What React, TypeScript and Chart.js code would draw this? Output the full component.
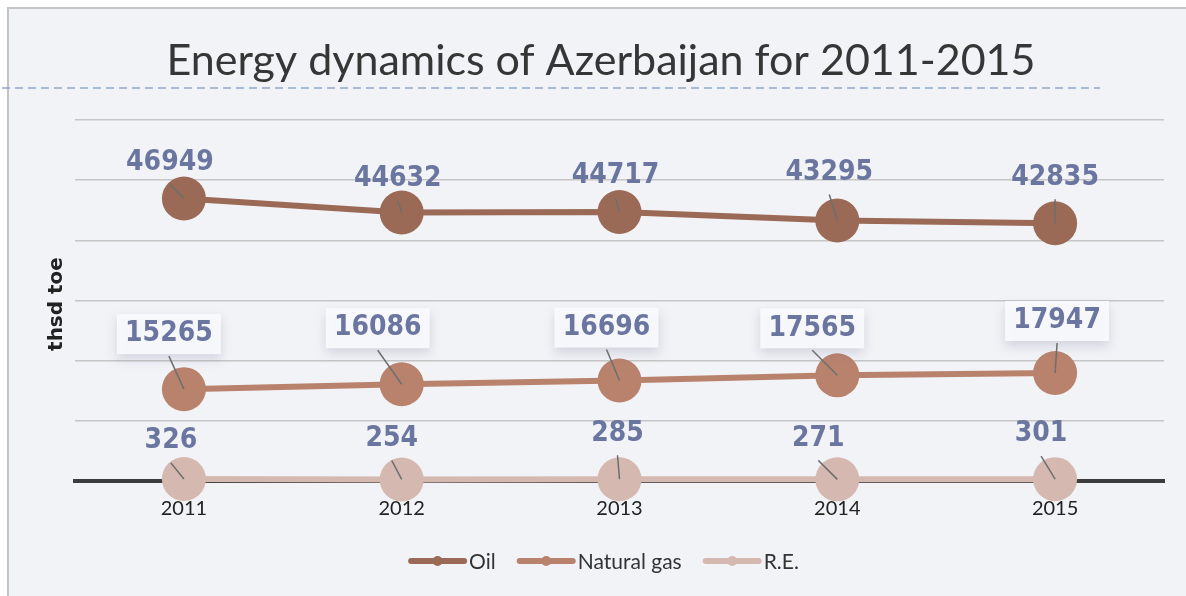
import { useEffect, useRef } from "react";
import { Chart, registerables } from "chart.js";
Chart.register(...registerables);

const title = "Energy dynamics of Azerbaijan for 2011-2015";
const yAxisTitle = "thsd toe";
const years = ["2011", "2012", "2013", "2014", "2015"];
const oil = [46949, 44632, 44717, 43295, 42835];
const gas = [15265, 16086, 16696, 17565, 17947];
const re = [326, 254, 285, 271, 301];
const seriesNames = ["Oil", "Natural gas", "R.E."];
const yMin = 0;
const yMax = 60000;
const yStep = 10000;

// label placement offsets (px) relative to each point
const labelOffsets = [
  [[-14, -36], [-4, -34], [-4, -36], [-8, -48], [0, -46]],
  [[-15, -55], [-24, -56], [-13, -53], [-25, -47], [2, -52]],
  [[-13, -38], [-10, -41], [-2, -46], [-19, -41], [-14, -45]],
];

const colors = ["#9a6a57", "#b9826d", "#d5b9b0"];
const labelColor = "#6b76a0";

export default function App() {
  const ref = useRef<HTMLCanvasElement | null>(null);
  useEffect(() => {
    const canvas = ref.current!;
    const decor = {
      id: "decor",
      beforeDraw(chart: any) {
        const ctx = chart.ctx;
        ctx.save();
        ctx.fillStyle = "#ffffff";
        ctx.fillRect(0, 0, chart.width, chart.height);
        ctx.fillStyle = "#f2f3f7";
        ctx.fillRect(8, 8, chart.width - 8, chart.height - 8);
        ctx.fillStyle = "#c4c4c4";
        ctx.fillRect(7, 7, chart.width - 7, 2);
        ctx.fillRect(7, 7, 2, chart.height - 7);
        // title
        ctx.fillStyle = "#363636";
        ctx.font = "43px Lato";
        ctx.textAlign = "center";
        ctx.textBaseline = "alphabetic";
        ctx.fillText(title, 601, 75);
        // dashed line
        ctx.strokeStyle = "#8eaac8";
        ctx.lineWidth = 1.5;
        ctx.setLineDash([8, 5]);
        ctx.beginPath();
        ctx.moveTo(2, 88);
        ctx.lineTo(1100, 88);
        ctx.stroke();
        ctx.setLineDash([]);
        // y title
        ctx.translate(57, 304);
        ctx.rotate(-Math.PI / 2);
        ctx.fillStyle = "#222";
        ctx.font = "bold 20px 'DejaVu Sans'";
        ctx.textAlign = "center";
        ctx.textBaseline = "middle";
        ctx.fillText(yAxisTitle, 0, 0);
        ctx.restore();
      },
      afterDatasetsDraw(chart: any) {
        const ctx = chart.ctx;
        ctx.save();
        chart.data.datasets.forEach((ds: any, di: number) => {
          const meta = chart.getDatasetMeta(di);
          meta.data.forEach((pt: any, i: number) => {
            const [dx, dy] = labelOffsets[di][i];
            const lx = pt.x + dx;
            const ly = pt.y + dy;
            if (di === 1) {
              ctx.save();
              ctx.shadowColor = "rgba(110,120,150,0.28)";
              ctx.shadowBlur = 10;
              ctx.shadowOffsetY = 5;
              ctx.fillStyle = "rgba(250,251,253,0.9)";
              ctx.fillRect(lx - 52, ly - 20, 104, 40);
              ctx.restore();
            }
            ctx.strokeStyle = "#6e6e6e";
            ctx.lineWidth = 1.5;
            ctx.beginPath();
            ctx.moveTo(lx, ly + 22);
            ctx.lineTo(pt.x, pt.y);
            ctx.stroke();
            ctx.fillStyle = labelColor;
            ctx.font = "bold 28px 'DejaVu Sans Condensed', 'DejaVu Sans'";
            ctx.textAlign = "center";
            ctx.textBaseline = "middle";
            ctx.fillText(String(ds.data[i]), lx, ly);
          });
        });
        ctx.restore();
      },
      afterDraw(chart: any) {
        const ctx = chart.ctx;
        ctx.save();
        ctx.font = "21px Lato";
        const lineW = 57;
        const gapT = 3;
        const gapI = 22;
        const widths = seriesNames.map((n) => lineW + gapT + ctx.measureText(n).width);
        const total = widths.reduce((a, b) => a + b, 0) + gapI * (widths.length - 1);
        let x = 604 - total / 2;
        const y = 561;
        seriesNames.forEach((n, i) => {
          ctx.strokeStyle = colors[i];
          ctx.lineWidth = 6;
          ctx.lineCap = "round";
          ctx.beginPath();
          ctx.moveTo(x + 2, y);
          ctx.lineTo(x + lineW - 2, y);
          ctx.stroke();
          ctx.fillStyle = colors[i];
          ctx.beginPath();
          ctx.arc(x + lineW / 2, y, 5, 0, Math.PI * 2);
          ctx.fill();
          ctx.fillStyle = "#333";
          ctx.textAlign = "left";
          ctx.textBaseline = "middle";
          ctx.fillText(n, x + lineW + gapT, y + 1);
          x += widths[i] + gapI;
        });
        ctx.restore();
      },
    };
    const mk = (label: string, data: number[], c: string) => ({
      label,
      data,
      borderColor: c,
      backgroundColor: c,
      pointBackgroundColor: c,
      pointBorderColor: c,
      borderWidth: 6,
      pointRadius: 22,
      pointHoverRadius: 22,
      pointBorderWidth: 0,
      tension: 0,
      fill: false,
      clip: false,
    });
    const chart = new Chart(canvas, {
      type: "line",
      data: {
        labels: years,
        datasets: [
          mk(seriesNames[0], oil, colors[0]),
          mk(seriesNames[1], gas, colors[1]),
          mk(seriesNames[2], re, colors[2]),
        ],
      },
      options: {
        responsive: false,
        animation: false,
        events: [],
        layout: { padding: { left: 75, right: 21, top: 120, bottom: 59 } },
        plugins: { legend: { display: false }, title: { display: false }, tooltip: { enabled: false } },
        scales: {
          x: {
            offset: true,
            grid: { display: false, drawTicks: false },
            border: { display: true, color: "#3d3d3d", width: 4 },
            ticks: { color: "#222", font: { family: "Lato", size: 20 }, padding: 16 },
          },
          y: {
            min: yMin,
            max: yMax,
            ticks: { display: false, stepSize: yStep },
            grid: { color: "#c6c6c6", lineWidth: 1.5, drawTicks: false },
            border: { display: false },
          },
        },
      },
      plugins: [decor],
    });
    return () => chart.destroy();
  }, []);
  return (
    <div style={{ position: "fixed", left: 0, top: 0, width: 1186, height: 596 }}>
      <canvas ref={ref} width={1186} height={596} style={{ display: "block" }} />
    </div>
  );
}
